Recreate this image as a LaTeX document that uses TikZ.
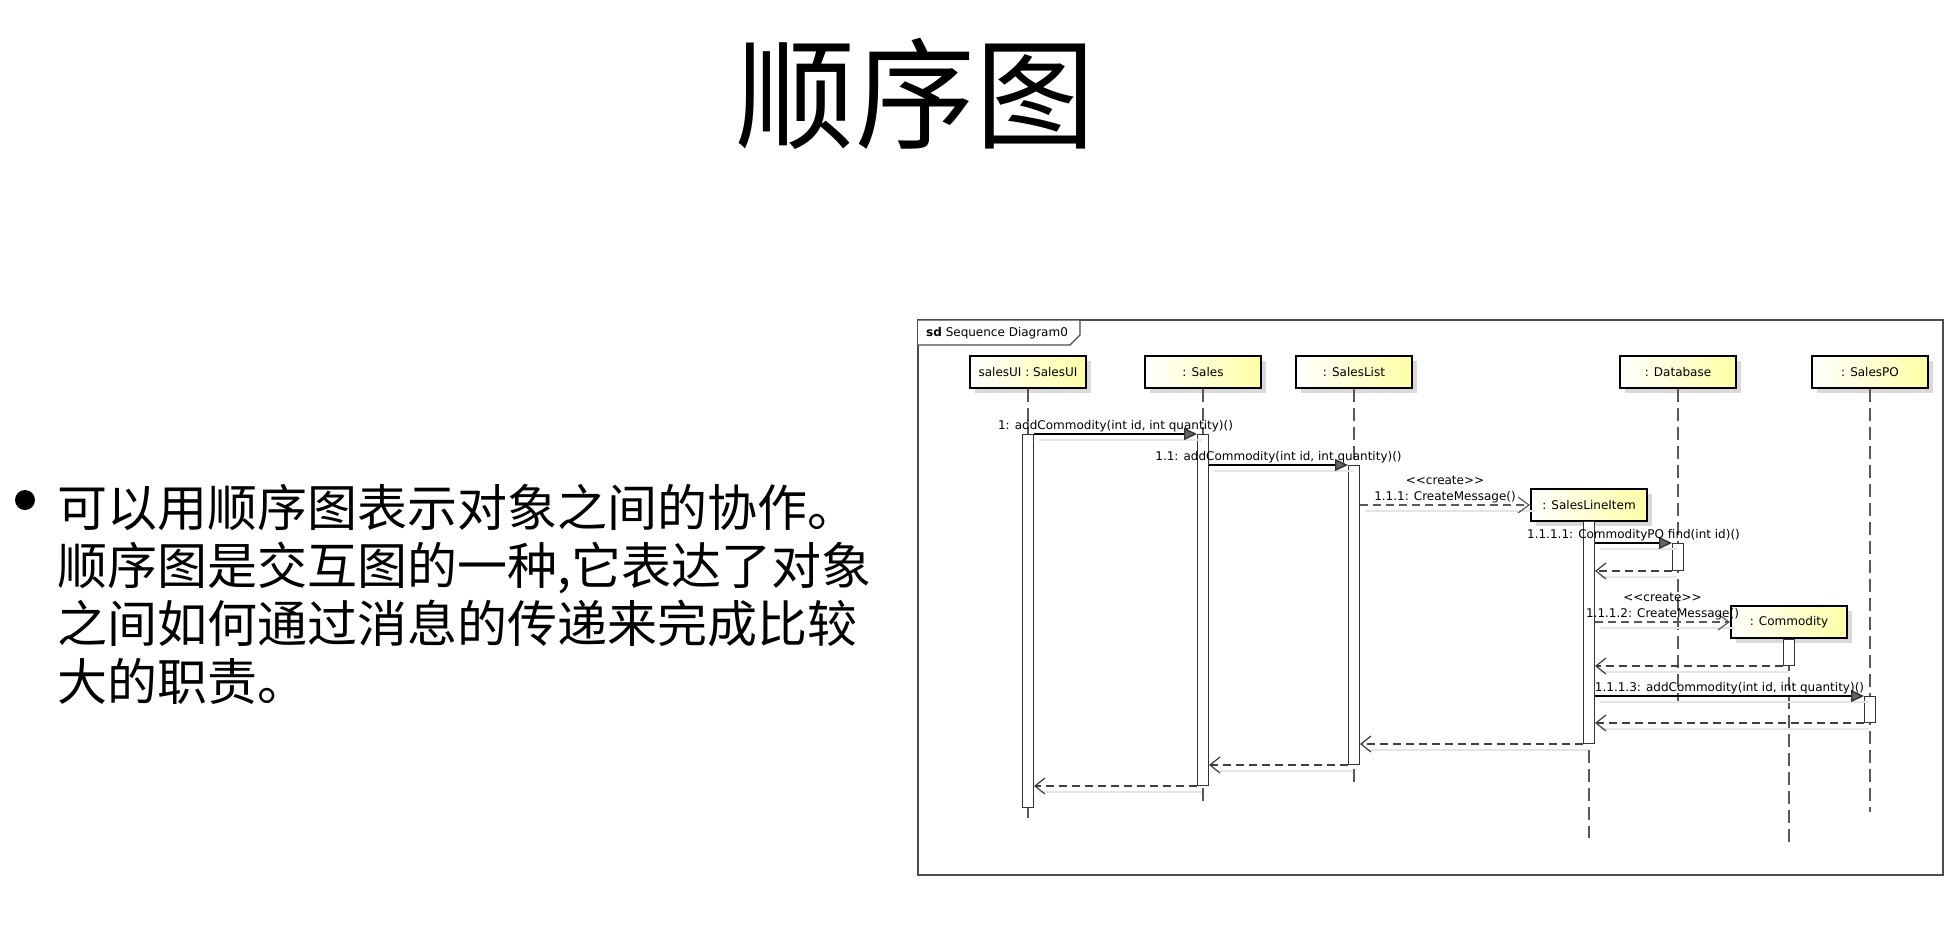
\documentclass[tikz,border=0pt]{standalone}
\usepackage{fontspec}
\setmainfont{DejaVu Sans}
\newfontfamily\cjk{Noto Sans CJK SC}
\usepackage{tikz}
\usetikzlibrary{arrows.meta, positioning, calc, shadows}

\tikzset{
  body/.style={font=\cjk\fontsize{50}{58}\selectfont, anchor=base west, inner sep=0pt},
  head/.style={draw=black, line width=2pt, left color=white, right color=yellow!35,
    minimum width=116pt, minimum height=32pt, inner sep=0pt, font=\fontsize{12}{15}\selectfont,
    drop shadow={shadow xshift=5pt, shadow yshift=-5pt, fill=black!15, opacity=1}},
  act/.style={draw=black!80, fill=white, line width=1pt, minimum width=11pt, inner sep=0pt, anchor=north},
  lifeline/.style={draw=black!65, line width=1.2pt, dash pattern=on 13pt off 6pt},
  msgshadow/.style={preaction={draw=black!10, solid, line width=1.4pt, -, transform canvas={shift={(5pt,-6pt)}}}},
  call/.style={msgshadow, draw=black, line width=1.4pt,
    -{Triangle[length=13pt, width=12pt, fill=black!60, color=black!80]}},
  reply/.style={msgshadow, draw=black!75, line width=1.6pt, dash pattern=on 8pt off 5pt,
    -{Straight Barb[length=10pt, width=16pt, line width=1.2pt]}},
  create/.style={msgshadow, draw=black!65, line width=1.2pt, dash pattern=on 8pt off 5pt,
    -{Straight Barb[length=11pt, width=16pt, line width=1.2pt]}},
  msg/.style={font=\fontsize{12}{16}\selectfont, inner sep=0pt, align=center},
}

\begin{document}
\begin{tikzpicture}[x=1pt, y=-1pt]
\useasboundingbox (0,0) rectangle (1958,942);
% slide title and the bullet text
\node[font=\cjk\fontsize{120}{130}\selectfont, anchor=base] (title) at (915,139) {顺序图};
\node[circle, fill=black, minimum size=20pt, inner sep=0pt] (bullet) at (25,500) {};
\node[body] (line1) at (57,526) {可以用顺序图表示对象之间的协作。};
\node[body] (line2) at (57,584) {顺序图是交互图的一种,它表达了对象};
\node[body] (line3) at (57,642) {之间如何通过消息的传递来完成比较};
\node[body] (line4) at (57,700) {大的职责。};
% diagram frame and its name tab
\draw[black!70, line width=1.5pt] (918,320) rectangle (1943,875);
\draw[black!70, line width=1.2pt, fill=white] (918,320) -- (1080,320) -- (1080,335) -- (1070,345) -- (918,345);
\node[msg, anchor=west] (tab) at (926,333) {\textbf{sd} Sequence Diagram0};
% object heads
\node[head] (ui) at (1028,372) {salesUI : SalesUI};
\node[head] (sales) at (1203,372) {: Sales};
\node[head] (list) at (1354,372) {: SalesList};
\node[head] (db) at (1678,372) {: Database};
\node[head] (po) at (1870,372) {: SalesPO};
\node[head] (sli) at (1589,505) {: SalesLineItem};
\node[head] (com) at (1789,622) {: Commodity};
% lifelines, then the activation bars on top of them
\foreach \obj/\yend in {ui/818, sales/807, list/785, sli/838, db/703, com/847, po/812} {
  \coordinate (\obj-end) at (\obj.south |- 0,\yend);
  \draw[lifeline] (\obj.south) -- (\obj-end);
}
\foreach \obj/\ytop/\len in {ui/434/373, sales/434/351, list/465/299, sli/521/222, db/543/27, com/639/26, po/696/26}
  \node[act, minimum height=\len pt] (act\obj) at (\obj.south |- 0,\ytop) {};
% messages, top to bottom
\draw[call] (actui.north east) -- node[msg, above=1pt] (m1) {1: addCommodity(int id, int quantity)()} (actsales.north west);
\draw[call] (actsales.east |- actlist.north) -- node[msg, above=1pt] (m2) {1.1: addCommodity(int id, int quantity)()} (actlist.north west);
\draw[create] (actlist.east |- sli.west) -- node[msg, above=1pt] (m3) {<\kern0pt<create>\kern0pt>\\1.1.1: CreateMessage()} (sli.west);
\draw[call] (actsli.east |- actdb.north) -- node[msg, above=1pt] (m4) {1.1.1.1: CommodityPO find(int id)()} (actdb.north west);
\draw[reply] (actdb.south west) -- (actdb.south west -| actsli.east);
\draw[create] (actsli.east |- com.west) -- node[msg, above=1pt] (m6) {<\kern0pt<create>\kern0pt>\\1.1.1.2: CreateMessage()} (com.west);
\draw[reply] (actcom.south west) -- (actcom.south west -| actsli.east);
\draw[call] (actsli.east |- actpo.north) -- node[msg, above=1pt] (m8) {1.1.1.3: addCommodity(int id, int quantity)()} (actpo.north west);
\draw[reply] (actpo.south west) -- (actpo.south west -| actsli.east);
\draw[reply] (actsli.south west) -- (actsli.south west -| actlist.east);
\draw[reply] (actlist.south west) -- (actlist.south west -| actsales.east);
\draw[reply] (actsales.south west) -- (actsales.south west -| actui.east);
\end{tikzpicture}
\end{document}
